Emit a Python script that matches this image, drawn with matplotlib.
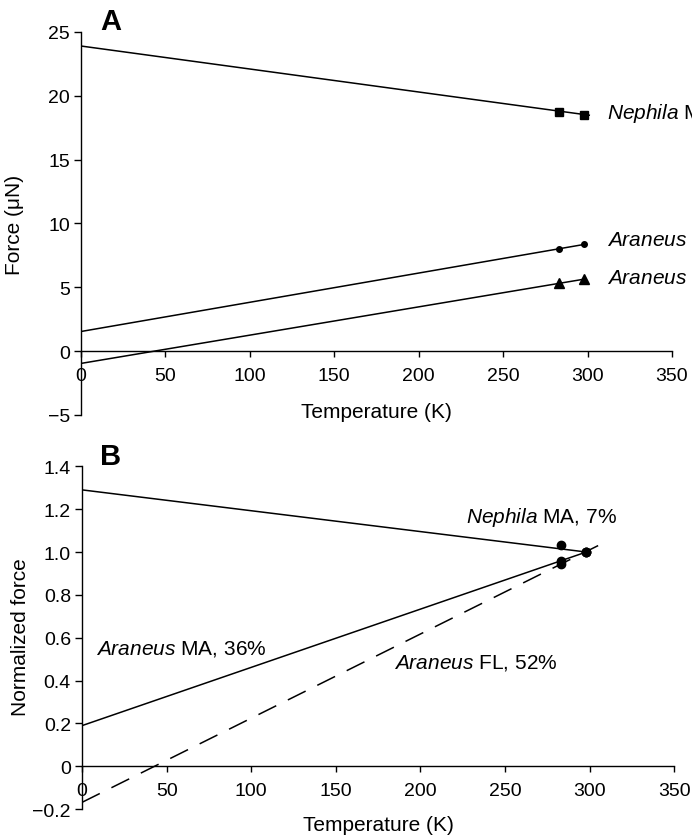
import matplotlib
matplotlib.use("Agg")
import matplotlib.pyplot as plt

plt.rcParams['font.family'] = ['Liberation Sans', 'DejaVu Sans']
plt.rcParams['mathtext.fontset'] = 'custom'
plt.rcParams['mathtext.rm'] = 'Liberation Sans'
plt.rcParams['mathtext.it'] = 'Liberation Sans:italic'

# measured temperatures (K)
temps = [283, 298]

# Panel A: force (uN) at each temperature
nephila_force = [18.75, 18.52]
araneus_ma_force = [8.02, 8.36]
araneus_fl_force = [5.33, 5.64]

# Panel A: fitted lines (end points)
nephila_fit_t = [0, 301]
nephila_fit = [23.9, 18.48]
araneus_ma_fit_t = [0, 298]
araneus_ma_fit = [1.54, 8.36]
araneus_fl_fit_t = [0, 298]
araneus_fl_fit = [-0.96, 5.64]

# Panel B: normalized force
nephila_norm = [1.033, 1.0]
araneus_ma_norm = [0.96, 1.0]
araneus_fl_norm = [0.944, 1.0]

nephila_norm_fit_t = [0, 298]
nephila_norm_fit = [1.29, 1.0]
araneus_ma_norm_fit_t = [0, 298]
araneus_ma_norm_fit = [0.19, 1.0]
araneus_fl_norm_fit_t = [0, 305]
araneus_fl_norm_fit = [-0.168, 1.03]

x_ticks = [0, 50, 100, 150, 200, 250, 300, 350]
a_yticks = [-5, 0, 5, 10, 15, 20, 25]
b_yticks = [-0.2, 0, 0.2, 0.4, 0.6, 0.8, 1.0, 1.2, 1.4]
b_ylabels = ['\u22120.2', '0', '0.2', '0.4', '0.6', '0.8', '1.0', '1.2', '1.4']

TICK_FS = 14
LABEL_FS = 15
fig = plt.figure(figsize=(6.92, 8.37), dpi=100)
axA = fig.add_axes([0.1171, 0.5030, 0.8540, 0.4576])
axB = fig.add_axes([0.1185, 0.0320, 0.8559, 0.4097])


def style_axes(ax):
    for s in ['top', 'right']:
        ax.spines[s].set_visible(False)
    ax.spines['bottom'].set_position(('data', 0))
    for s in ['left', 'bottom']:
        ax.spines[s].set_linewidth(1.0)
    ax.tick_params(axis='x', direction='out', length=4.3, width=1.0, pad=7, labelsize=TICK_FS)
    ax.tick_params(axis='y', direction='out', length=5, width=1.0, pad=3, labelsize=TICK_FS)
    ax.set_xlim(0, 350)
    ax.set_xticks(x_ticks)
    ax.set_xticklabels([str(t) for t in x_ticks])


# ---- Panel A ----
style_axes(axA)
axA.set_ylim(-5, 25)
axA.set_yticks(a_yticks)
axA.set_yticklabels(['\u22125' if v < 0 else str(v) for v in a_yticks])

axA.plot(nephila_fit_t, nephila_fit, color='black', lw=1.1)
axA.plot(araneus_ma_fit_t, araneus_ma_fit, color='black', lw=1.1)
axA.plot(araneus_fl_fit_t, araneus_fl_fit, color='black', lw=1.1)
axA.plot(temps, nephila_force, 's', color='black', ms=5.5)
axA.plot(temps, araneus_ma_force, 'o', color='black', ms=4)
axA.plot(temps, araneus_fl_force, '^', color='black', ms=7)

axA.text(311.5, 18.7, r'$\mathit{Nephila}$ MA', fontsize=LABEL_FS, va='center', ha='left')
axA.text(311.5, 8.72, r'$\mathit{Araneus}$ MA', fontsize=LABEL_FS, va='center', ha='left')
axA.text(311.5, 5.74, r'$\mathit{Araneus}$ FL', fontsize=LABEL_FS, va='center', ha='left')

axA.set_xlabel('Temperature (K)', fontsize=LABEL_FS, va='center')
axA.xaxis.set_label_coords(0.5, 0.008)
axA.set_ylabel('Force (\u03bcN)', fontsize=LABEL_FS, va='center')
axA.yaxis.set_label_coords(-0.113, 0.5)

# ---- Panel B ----
style_axes(axB)
axB.set_ylim(-0.2, 1.4)
axB.set_yticks(b_yticks)
axB.set_yticklabels(b_ylabels)

axB.plot(nephila_norm_fit_t, nephila_norm_fit, color='black', lw=1.1)
axB.plot(araneus_ma_norm_fit_t, araneus_ma_norm_fit, color='black', lw=1.1)
axB.plot(araneus_fl_norm_fit_t, araneus_fl_norm_fit, color='black', lw=1.1,
         linestyle=(0, (13, 8.5)))
axB.plot(temps, nephila_norm, 'o', color='black', ms=6)
axB.plot(temps, araneus_ma_norm, 'o', color='black', ms=6)
axB.plot(temps, araneus_fl_norm, 'o', color='black', ms=6)

axB.text(227, 1.168, r'$\mathit{Nephila}$ MA, 7%', fontsize=LABEL_FS, va='center', ha='left')
axB.text(8.3, 0.552, r'$\mathit{Araneus}$ MA, 36%', fontsize=LABEL_FS, va='center', ha='left')
axB.text(184.5, 0.487, r'$\mathit{Araneus}$ FL, 52%', fontsize=LABEL_FS, va='center', ha='left')

axB.set_xlabel('Temperature (K)', fontsize=LABEL_FS, va='center')
axB.xaxis.set_label_coords(0.5, -0.046)
axB.set_ylabel('Normalized force', fontsize=LABEL_FS, va='center')
axB.yaxis.set_label_coords(-0.104, 0.505)

# panel letters
fig.text(111 / 692, 1 - 22 / 837, 'A', fontsize=21, fontweight='bold', ha='center', va='center')
fig.text(111 / 692, 1 - 457 / 837, 'B', fontsize=21, fontweight='bold', ha='center', va='center')

fig.savefig('out.png', dpi=100)
